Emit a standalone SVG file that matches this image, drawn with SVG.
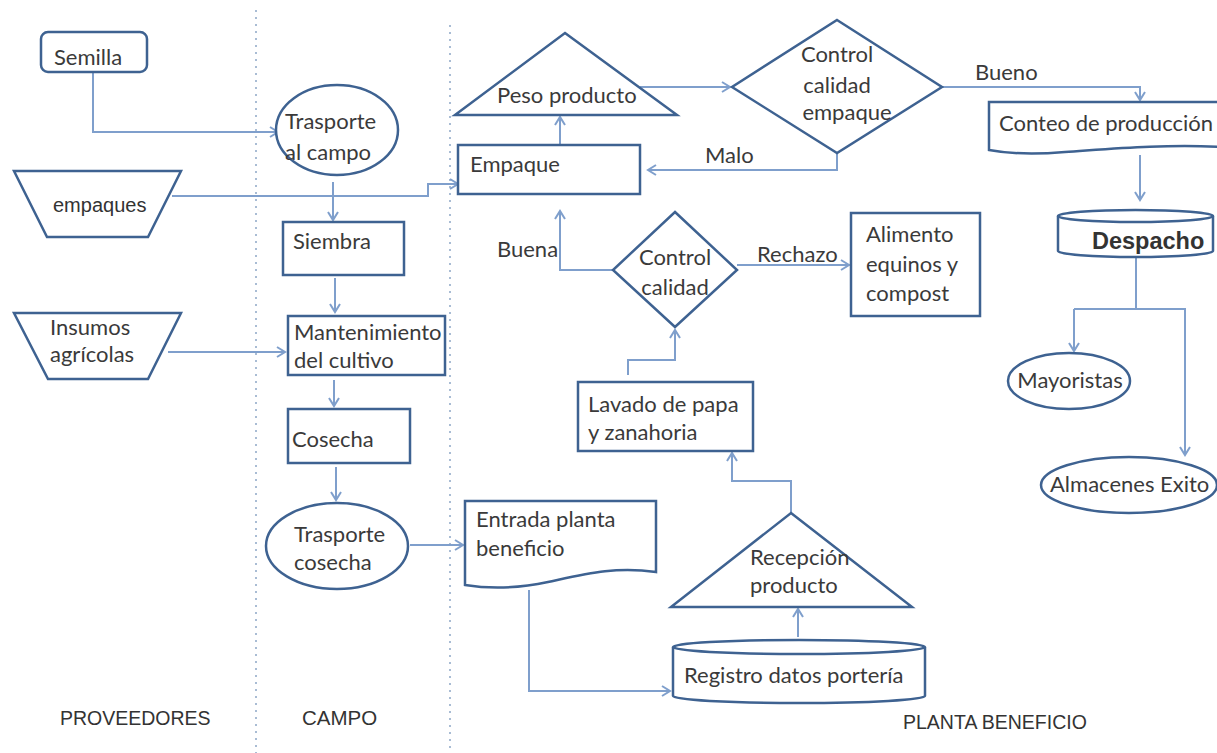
<svg xmlns="http://www.w3.org/2000/svg" width="1217" height="753" viewBox="0 0 1217 753">
<style>
.s{fill:#fff;stroke:#3e6291;stroke-width:2.5}
.c{fill:none;stroke:#7f9fcc;stroke-width:2}
.t{font-family:Lato,"Liberation Sans",sans-serif;font-size:22px;fill:#3a3a3a}
.a{font-family:"Liberation Sans",Arial,sans-serif;fill:#333}
.d{fill:none;stroke:#a9bcd4;stroke-width:2;stroke-dasharray:2 5}
</style>
<defs>
<marker id="ar" markerWidth="12" markerHeight="12" refX="10" refY="6" orient="auto" markerUnits="userSpaceOnUse">
<path d="M2,1 L10,6 L2,11" fill="none" stroke="#7f9fcc" stroke-width="2"/>
</marker>
</defs>
<rect width="1217" height="753" fill="#fff"/>
<g id="lanes">
<line class="d" x1="256" y1="10" x2="256" y2="753"/>
<line class="d" x1="450" y1="25" x2="450" y2="753"/>
<text class="a" x="60" y="725" font-size="19.5">PROVEEDORES</text>
<text class="a" x="302" y="725" font-size="20.5">CAMPO</text>
<text class="a" x="903" y="729" font-size="19.5">PLANTA BENEFICIO</text>
</g>
<g id="connectors">
<path class="c" d="M93,72 V132 H278" marker-end="url(#ar)"/>
<path class="c" d="M172,196 H428 V184 H458" marker-end="url(#ar)"/>
<path class="c" d="M333,182 V220" marker-end="url(#ar)"/>
<path class="c" d="M335,278 V312" marker-end="url(#ar)"/>
<path class="c" d="M168,352 H285" marker-end="url(#ar)"/>
<path class="c" d="M334,380 V406" marker-end="url(#ar)"/>
<path class="c" d="M336,467 V500" marker-end="url(#ar)"/>
<path class="c" d="M410,545 H463" marker-end="url(#ar)"/>
<path class="c" d="M529,590 V691 H670" marker-end="url(#ar)"/>
<path class="c" d="M798,637 V609" marker-end="url(#ar)"/>
<path class="c" d="M791,513 V481 H732 V453" marker-end="url(#ar)"/>
<path class="c" d="M628,375 V360 H675 V330" marker-end="url(#ar)"/>
<path class="c" d="M612,270 H560 V211" marker-end="url(#ar)"/>
<path class="c" d="M737,265 H849" marker-end="url(#ar)"/>
<path class="c" d="M560,144 V117" marker-end="url(#ar)"/>
<path class="c" d="M640,87 H730" marker-end="url(#ar)"/>
<path class="c" d="M837,153 V170 H648" marker-end="url(#ar)"/>
<path class="c" d="M942,87 H1140 V100" marker-end="url(#ar)"/>
<path class="c" d="M1140,155 V200" marker-end="url(#ar)"/>
<path class="c" d="M1136,258 V309"/>
<path class="c" d="M1074,309 H1185 V455" marker-end="url(#ar)"/>
<path class="c" d="M1074,309 V351" marker-end="url(#ar)"/>
<text class="t" x="705" y="163">Malo</text>
<text class="t" x="975" y="80">Bueno</text>
<text class="t" x="497" y="257">Buena</text>
<text class="t" x="757" y="262">Rechazo</text>
</g>
<g id="semilla">
<rect class="s" x="41" y="32" width="106" height="40" rx="7"/>
<text class="t" x="54" y="65">Semilla</text>
</g>
<g id="trasporte-campo">
<ellipse class="s" cx="337" cy="130" rx="61" ry="45"/>
<text class="t" x="285" y="129">Trasporte</text>
<text class="t" x="285" y="160">al campo</text>
</g>
<g id="empaques">
<polygon class="s" points="14,171 181,171 148,237 47,237"/>
<text class="a" x="53" y="212" font-size="20">empaques</text>
</g>
<g id="siembra">
<rect class="s" x="283" y="222" width="121" height="53"/>
<text class="t" x="293" y="249">Siembra</text>
</g>
<g id="insumos">
<polygon class="s" points="14,313 181,313 148,379 48,379"/>
<text class="t" x="50" y="335">Insumos</text>
<text class="t" x="50" y="362">agrícolas</text>
</g>
<g id="mantenimiento">
<rect class="s" x="288" y="316" width="157" height="59"/>
<text class="t" x="294" y="340">Mantenimiento</text>
<text class="t" x="294" y="368">del cultivo</text>
</g>
<g id="cosecha">
<rect class="s" x="288" y="409" width="122" height="54"/>
<text class="t" x="292" y="447">Cosecha</text>
</g>
<g id="trasporte-cosecha">
<ellipse class="s" cx="337" cy="546" rx="71" ry="43"/>
<text class="t" x="294" y="542">Trasporte</text>
<text class="t" x="294" y="570">cosecha</text>
</g>
<g id="entrada">
<path class="s" d="M465,501 H656 V572 C615,566 585,574 548,582 C515,589 490,589 465,585 Z"/>
<text class="t" x="476" y="527">Entrada planta</text>
<text class="t" x="476" y="556">beneficio</text>
</g>
<g id="registro">
<path class="s" d="M673,647 V696 A126,7 0 0 0 925,696 V647"/>
<ellipse class="s" cx="799" cy="647" rx="126" ry="7"/>
<text class="t" x="684" y="683">Registro datos portería</text>
</g>
<g id="recepcion">
<polygon class="s" points="791,513 912,607 671,607"/>
<text class="t" x="750" y="565">Recepción</text>
<text class="t" x="750" y="593">producto</text>
</g>
<g id="lavado">
<rect class="s" x="578" y="382" width="175" height="69"/>
<text class="t" x="588" y="412">Lavado de papa</text>
<text class="t" x="588" y="440">y zanahoria</text>
</g>
<g id="control-calidad">
<polygon class="s" points="675,212 737,270 675,327 613,270"/>
<text class="t" x="675" y="265" text-anchor="middle">Control</text>
<text class="t" x="675" y="295" text-anchor="middle">calidad</text>
</g>
<g id="alimento">
<rect class="s" x="851" y="213" width="129" height="103"/>
<text class="t" x="866" y="242">Alimento</text>
<text class="t" x="866" y="272">equinos y</text>
<text class="t" x="866" y="301">compost</text>
</g>
<g id="empaque">
<rect class="s" x="458" y="145" width="182" height="49"/>
<text class="t" x="470" y="172">Empaque</text>
</g>
<g id="peso">
<polygon class="s" points="565,33 677,115 455,115"/>
<text class="t" x="497" y="103">Peso producto</text>
</g>
<g id="control-empaque">
<polygon class="s" points="837,20 942,87 837,153 732,87"/>
<text class="t" x="837" y="62" text-anchor="middle">Control</text>
<text class="t" x="837" y="93" text-anchor="middle">calidad</text>
<text class="t" x="847" y="120" text-anchor="middle">empaque</text>
</g>
<g id="conteo">
<path class="s" d="M989,102 H1225 V147 C1160,144 1110,149 1065,152 C1030,155 1005,153 989,150 Z"/>
<text class="t" x="999" y="131">Conteo de producción</text>
</g>
<g id="despacho">
<path class="s" d="M1058,216 V251 A77.5,6 0 0 0 1213,251 V216"/>
<ellipse class="s" cx="1135.5" cy="216" rx="77.5" ry="6"/>
<text class="a" x="1092" y="249" font-size="23.5" font-weight="bold" fill="#222">Despacho</text>
</g>
<g id="mayoristas">
<ellipse class="s" cx="1069" cy="381" rx="61" ry="28"/>
<text class="t" x="1070" y="388" text-anchor="middle">Mayoristas</text>
</g>
<g id="almacenes">
<ellipse class="s" cx="1129" cy="485" rx="88" ry="28"/>
<text class="t" x="1050" y="492">Almacenes Exito</text>
</g>
</svg>
